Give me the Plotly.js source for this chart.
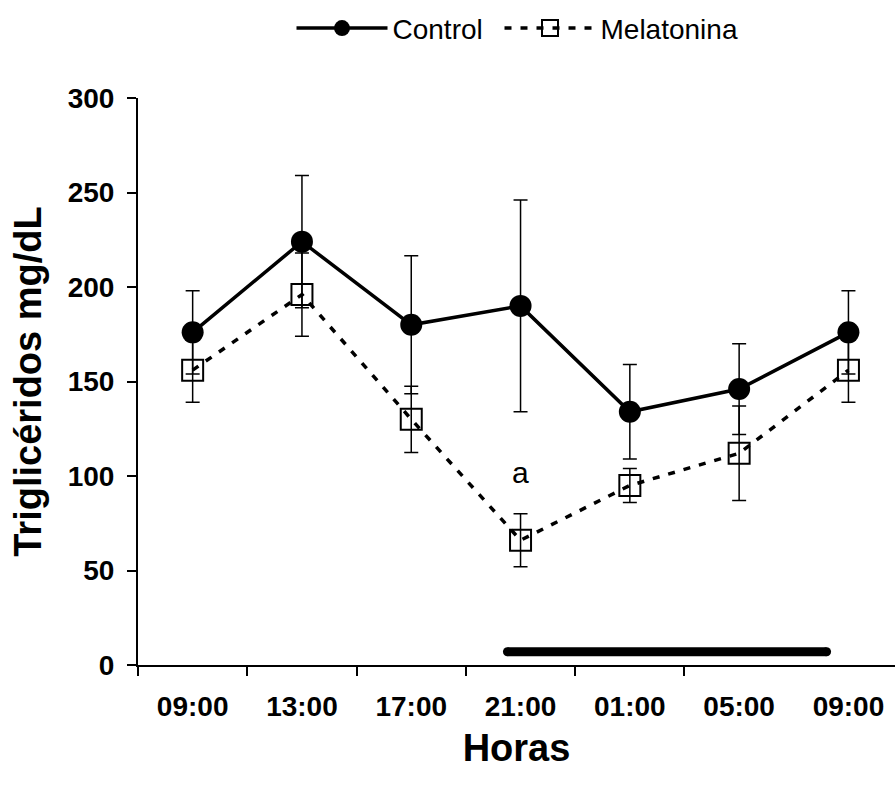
<!DOCTYPE html>
<html><head><meta charset="utf-8">
<script src="https://cdn.plot.ly/plotly-3.0.1.min.js"></script>
<style>html,body{margin:0;padding:0;background:#fff}#chart{width:895px;height:787px}</style>
</head><body><div id="chart"></div>
<script>
// ---- data ----
const hours = ["09:00", "13:00", "17:00", "21:00", "01:00", "05:00", "09:00"];
const control = [176, 224, 180, 190, 134, 146, 176];
const controlSE = [22, 35, 36.5, 56, 25, 24, 22];
const melatonina = [156, 196, 130, 66, 95, 112, 156];
const melatoninaSE = [17, 22, 17.5, 14, 9, 25, 17];
const nightX = [2.88, 5.80];   // dark-phase bar (category units)
const nightY = [7, 7];
const yTicks = [0, 50, 100, 150, 200, 250, 300];
const sigLabel = "a";
const sigIndex = 3;
const sigY = 102;

const idx = hours.map((_, i) => i);
const bounds = hours.slice(0, -1).map((_, i) => i - 0.5);
const FONT = "Liberation Sans, Arial, sans-serif";

const traces = [
  {
    x: idx, y: control, name: "Control", type: "scatter", mode: "lines+markers",
    legendwidth: 102,
    line: {color: "#000", width: 3.5},
    marker: {symbol: "circle", size: 22, color: "#000"},
    error_y: {type: "data", array: controlSE, visible: true, color: "#000", thickness: 1.5, width: 7}
  },
  {
    x: idx, y: melatonina, name: "Melatonina", type: "scatter", mode: "lines+markers",
    legendwidth: 136,
    line: {color: "#000", width: 3.5, dash: "7px,9px"},
    marker: {symbol: "square-open", size: 21, color: "#000", line: {color: "#000", width: 2}},
    error_y: {type: "data", array: melatoninaSE, visible: true, color: "#000", thickness: 1.5, width: 7}
  },
  {
    x: nightX, y: nightY, type: "scatter", mode: "lines+markers", showlegend: false, hoverinfo: "skip",
    line: {color: "#000", width: 9}, marker: {color: "#000", size: 9}
  }
];

const layout = {
  width: 895, height: 787,
  margin: {l: 138, r: 0, t: 98, b: 122, pad: 0},
  paper_bgcolor: "#fff", plot_bgcolor: "#fff",
  font: {family: FONT, color: "#000"},
  showlegend: true,
  legend: {
    orientation: "h", x: 0.5, xanchor: "center", yref: "container", y: 0.964, yanchor: "middle",
    font: {family: FONT, size: 28, color: "#000"}, itemwidth: 91, bgcolor: "rgba(0,0,0,0)"
  },
  xaxis: {
    range: [-0.5, 6.426], tickmode: "array", tickvals: idx, ticktext: hours,
    ticks: "", showline: true, linewidth: 2, linecolor: "#000",
    showgrid: false, zeroline: false, ticklabelstandoff: 15,
    tickfont: {family: FONT, size: 28, weight: "bold", color: "#000"},
    minor: {tickmode: "array", tickvals: bounds, ticks: "outside", ticklen: 9, tickwidth: 2, tickcolor: "#000", showgrid: false},
    title: {text: "Horas", font: {family: FONT, size: 38, weight: "bold", color: "#000"}, standoff: 14}
  },
  yaxis: {
    range: [0, 300], tickmode: "array", tickvals: yTicks,
    ticks: "outside", ticklen: 9, tickwidth: 2, tickcolor: "#000",
    showline: true, linewidth: 2, linecolor: "#000",
    showgrid: false, zeroline: false, ticklabelstandoff: 7,
    tickfont: {family: FONT, size: 28, weight: "bold", color: "#000"},
    title: {text: "Triglicéridos mg/dL", font: {family: FONT, size: 38, weight: "bold", color: "#000"}, standoff: 14}
  },
  annotations: [
    {x: sigIndex, y: sigY, text: sigLabel, showarrow: false, xref: "x", yref: "y",
     font: {family: FONT, size: 30, color: "#000"}}
  ]
};

Plotly.newPlot("chart", traces, layout, {displayModeBar: false, staticPlot: true});
</script>
</body></html>
